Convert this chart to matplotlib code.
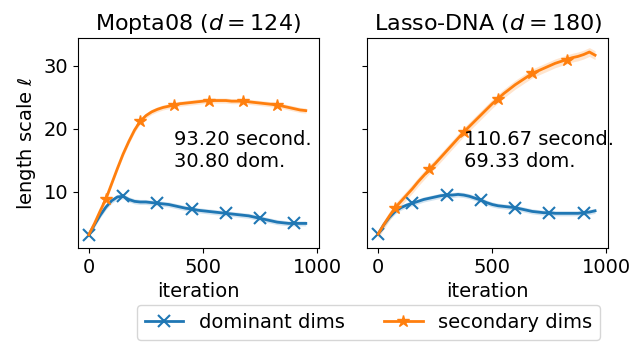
import numpy as np
import matplotlib
matplotlib.use("Agg")
import matplotlib.pyplot as plt

# iterations at which the length scales were logged
iterations = np.arange(0, 951, 25)

# Mopta08 (d=124)
mopta_dom = [3.2, 4.8, 6.3, 7.6, 8.6, 9.2, 9.3, 8.8, 8.5, 8.4,
             8.4, 8.3, 8.2, 8.1, 8.0, 7.8, 7.6, 7.4, 7.3, 7.1,
             7.0, 6.9, 6.8, 6.7, 6.6, 6.5, 6.4, 6.3, 6.2, 6.0,
             5.8, 5.6, 5.4, 5.2, 5.1, 5.0, 5.0, 5.0, 5.0]
mopta_sec = [3.2, 5.0, 7.0, 8.9, 11.3, 13.7, 16.0, 18.0, 19.8, 21.2,
             22.1, 22.7, 23.1, 23.4, 23.6, 23.8, 24.0, 24.1, 24.2, 24.3,
             24.4, 24.5, 24.5, 24.5, 24.5, 24.4, 24.4, 24.4, 24.3, 24.2,
             24.1, 24.0, 23.9, 23.8, 23.6, 23.4, 23.2, 23.0, 22.9]

# Lasso-DNA (d=180)
lasso_dom = [3.3, 4.8, 6.0, 6.9, 7.5, 7.9, 8.2, 8.5, 8.8, 9.0,
             9.2, 9.4, 9.5, 9.5, 9.6, 9.5, 9.3, 9.0, 8.7, 8.3,
             8.0, 7.8, 7.7, 7.6, 7.5, 7.3, 7.1, 6.9, 6.8, 6.7,
             6.7, 6.6, 6.6, 6.6, 6.6, 6.6, 6.7, 6.8, 7.0]
lasso_sec = [3.3, 4.8, 6.2, 7.5, 8.5, 9.5, 10.5, 11.6, 12.6, 13.6,
             14.5, 15.5, 16.5, 17.5, 18.5, 19.5, 20.4, 21.3, 22.2, 23.1,
             24.0, 24.8, 25.6, 26.3, 27.0, 27.6, 28.2, 28.8, 29.2, 29.6,
             30.0, 30.4, 30.7, 31.0, 31.3, 31.5, 31.8, 32.2, 31.7]

# standard error of each curve
mopta_err = [0.4, 0.4]
lasso_err = [0.4, 0.7]

titles = ["Mopta08 ($d=124$)", "Lasso-DNA ($d=180$)"]
notes = ["93.20 second.\n30.80 dom.", "110.67 second.\n69.33 dom."]

fig = plt.figure(figsize=(6.33, 3.46), dpi=100)
ax1 = fig.add_axes([0.123, 0.283, 0.381, 0.607])
ax2 = fig.add_axes([0.580, 0.283, 0.381, 0.607], sharey=ax1)

runs = [(ax1, mopta_dom, mopta_sec, mopta_err),
        (ax2, lasso_dom, lasso_sec, lasso_err)]

for k, (ax, dom, sec, err) in enumerate(runs):
    dom = np.array(dom)
    sec = np.array(sec)
    ax.fill_between(iterations, dom - err[0], dom + err[0], color="C0", alpha=0.2, lw=0)
    ax.fill_between(iterations, sec - err[1], sec + err[1], color="C1", alpha=0.2, lw=0)
    ax.plot(iterations, dom, color="C0", marker="x", markevery=6, ms=8, mew=1.5, lw=2,
            label="dominant dims")
    ax.plot(iterations, sec, color="C1", marker="*", markevery=(3, 6), ms=9, lw=2,
            label="secondary dims")
    ax.set_title(titles[k], fontsize=16)
    ax.set_xlabel("iteration", fontsize=14)
    ax.set_xlim(-48, 1008)
    ax.set_xticks([0, 500, 1000])
    ax.tick_params(labelsize=14)
    ax.text(0.4, 0.56, notes[k], transform=ax.transAxes, fontsize=14,
            ha="left", va="top")

ax1.set_ylabel(r"length scale $\ell$", fontsize=14)
ax1.set_yticks([10, 20, 30])
ax2.tick_params(labelleft=False)

handles, labels = ax1.get_legend_handles_labels()
fig.legend(handles, labels, loc="lower center", bbox_to_anchor=(0.582, -0.01),
           ncol=2, fontsize=14, frameon=True)

fig.savefig("out.png", dpi=100)
